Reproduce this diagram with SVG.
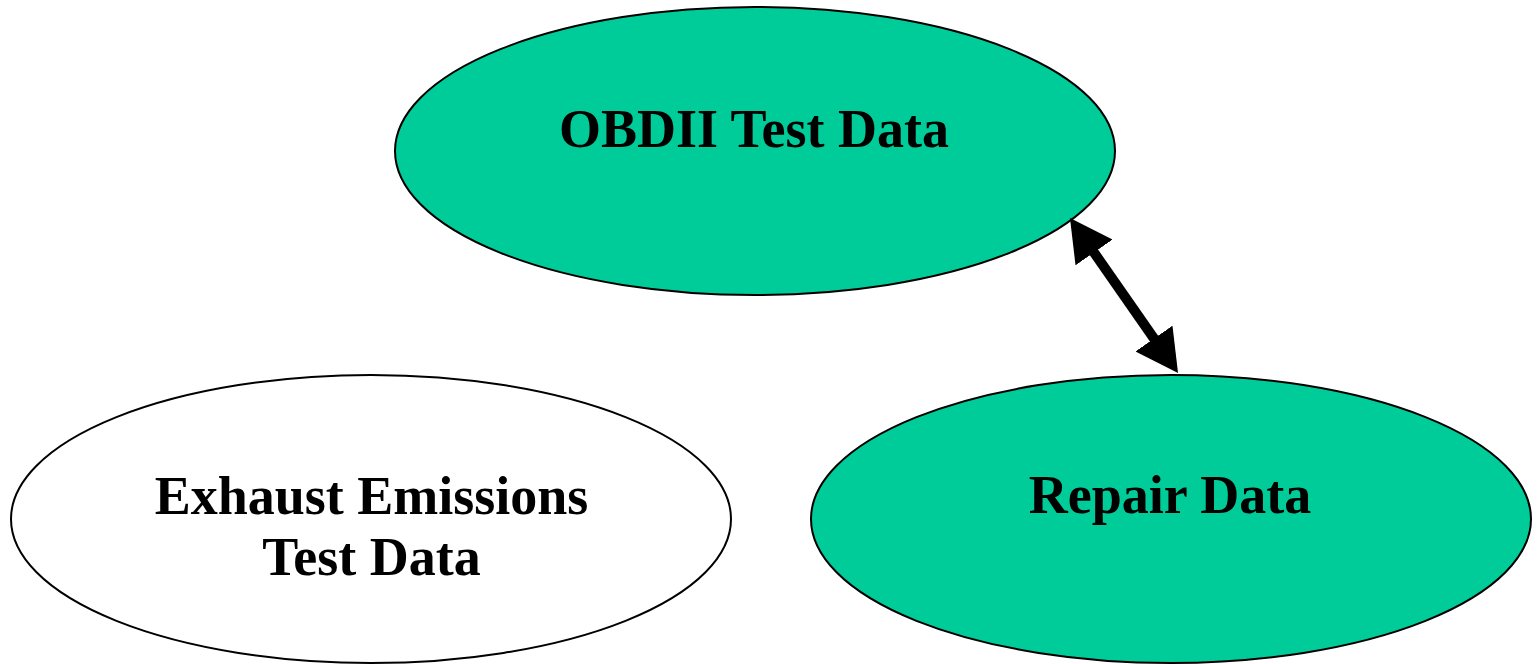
<svg xmlns="http://www.w3.org/2000/svg" width="1539" height="664" viewBox="0 0 1539 664">
<style>
.node ellipse{stroke:#000;stroke-width:2}
.green{fill:#00CC99}
.white{fill:#FFFFFF}
text{font-family:"Liberation Serif","Times New Roman",serif;font-weight:bold;font-size:54px;fill:#000;text-anchor:middle}
.conn{stroke:#000;stroke-width:10;fill:none}
</style>
<defs>
<marker id="ah" markerUnits="userSpaceOnUse" viewBox="0 0 42 45" refX="22" refY="22.5" markerWidth="42" markerHeight="45" orient="auto-start-reverse">
<path d="M0,0 L42,22.5 L0,45 z" fill="#000"/>
</marker>
</defs>
<rect width="1539" height="664" fill="#fff"/>
<g id="obdii" class="node">
<ellipse class="green" cx="755" cy="151" rx="360" ry="144"/>
<text x="754" y="147">OBDII Test Data</text>
</g>
<g id="exhaust" class="node">
<ellipse class="white" cx="371" cy="519" rx="360" ry="144"/>
<text x="371.5" y="514">Exhaust Emissions</text>
<text x="371.5" y="575">Test Data</text>
</g>
<g id="repair" class="node">
<ellipse class="green" cx="1171" cy="519" rx="360" ry="144"/>
<text x="1170" y="513">Repair Data</text>
</g>
<g id="connectors">
<line class="conn" x1="1081.4" y1="234.4" x2="1166.6" y2="356.6" marker-start="url(#ah)" marker-end="url(#ah)"/>
</g>
</svg>
